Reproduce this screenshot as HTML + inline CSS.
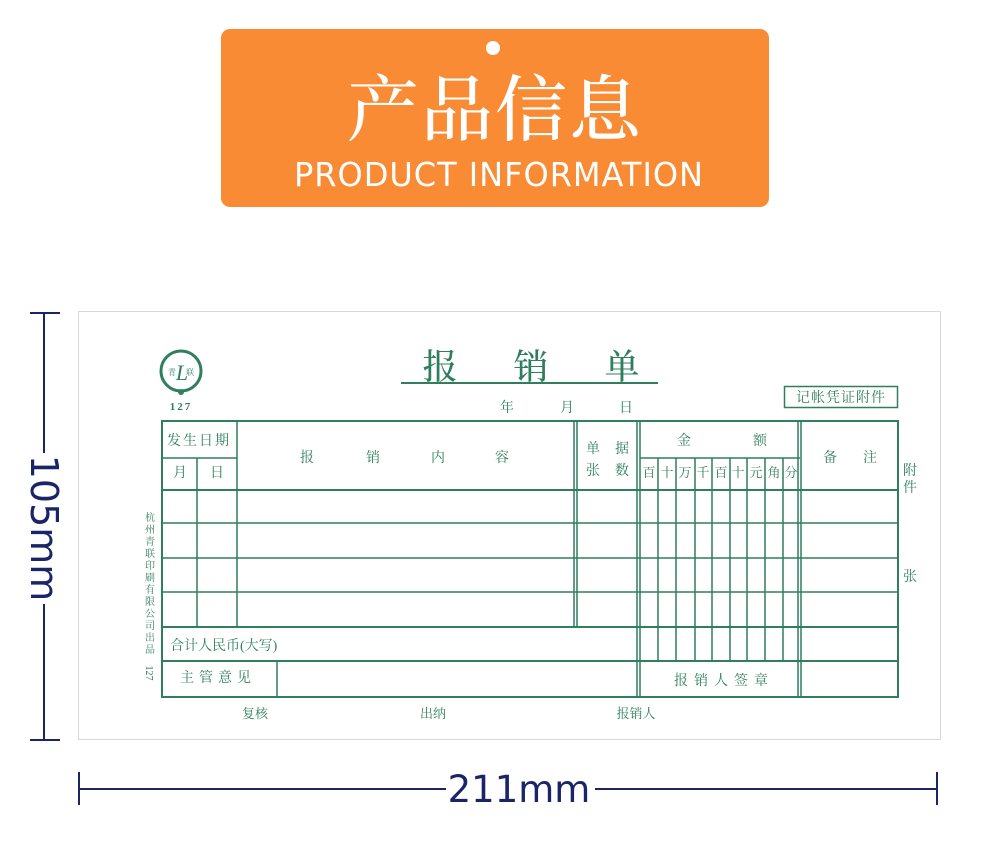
<!DOCTYPE html>
<html><head><meta charset="utf-8"><style>
html,body{margin:0;padding:0;background:#fff;width:990px;height:858px;overflow:hidden}
svg{display:block}
.g{fill:#2f7f5f;font-family:"Liberation Serif","Noto Serif CJK SC",serif}
</style></head><body>
<svg width="990" height="858" viewBox="0 0 990 858" xmlns="http://www.w3.org/2000/svg">
<!-- header -->
<rect x="221" y="29" width="548" height="178" rx="9" fill="#f98b34"/>
<circle cx="493" cy="48" r="7" fill="#fff"/>
<text x="495" y="135" text-anchor="middle" font-size="72" fill="#fff" font-family="'Noto Serif CJK SC',serif" font-weight="500" letter-spacing="2">产品信息</text>
<text x="499" y="186" text-anchor="middle" font-size="33" fill="#fff" font-family="'DejaVu Sans','Liberation Sans',sans-serif" letter-spacing="1" textLength="410" lengthAdjust="spacingAndGlyphs">PRODUCT  INFORMATION</text>

<!-- paper -->
<rect x="78.5" y="311.5" width="862" height="428" fill="#fff" stroke="#d8d8d8"/>

<!-- dimensions -->
<g stroke="#1b2466" stroke-width="2" fill="none">
<line x1="44" y1="313" x2="44" y2="453"/><line x1="44" y1="604" x2="44" y2="740"/>
<line x1="30" y1="313" x2="60" y2="313"/><line x1="30" y1="740" x2="60" y2="740"/>
<line x1="79" y1="789" x2="446" y2="789"/><line x1="595" y1="789" x2="937" y2="789"/>
<line x1="79" y1="772" x2="79" y2="805"/><line x1="937" y1="772" x2="937" y2="805"/>
</g>
<text transform="translate(31,528) rotate(90)" text-anchor="middle" font-size="38" fill="#1b2466" font-family="'DejaVu Sans','Liberation Sans',sans-serif">105mm</text>
<text x="519" y="802" text-anchor="middle" font-size="37" fill="#1b2466" font-family="'DejaVu Sans','Liberation Sans',sans-serif">211mm</text>

<!-- logo -->
<circle cx="181" cy="371" r="20" fill="none" stroke="#2f7f5f" stroke-width="3"/>
<circle cx="181" cy="392" r="3" fill="#2f7f5f"/>
<text x="172" y="375" class="g" font-size="8" text-anchor="middle">青</text>
<text x="190" y="375" class="g" font-size="8" text-anchor="middle">联</text>
<text x="182" y="380" class="g" font-size="22" font-style="italic" text-anchor="middle">L</text>
<text x="181" y="410" class="g" font-size="11" text-anchor="middle" letter-spacing="2" font-weight="bold">127</text>

<!-- title -->
<g class="g" font-size="35" text-anchor="middle" font-family="'Noto Sans CJK SC',sans-serif" font-weight="500">
<text x="440" y="379">报</text><text x="531" y="379">销</text><text x="622" y="379">单</text>
</g>
<line x1="401" y1="383" x2="658" y2="383" stroke="#2f7f5f" stroke-width="2"/>
<g class="g" font-size="14" text-anchor="middle">
<text x="507" y="412">年</text><text x="567" y="412">月</text><text x="626" y="412">日</text>
</g>
<rect x="784.5" y="386.5" width="113" height="21" fill="none" stroke="#2f7f5f" stroke-width="1.5"/>
<text x="841" y="402" class="g" font-size="14" text-anchor="middle" letter-spacing="1">记帐凭证附件</text>

<!-- table -->
<g stroke="#2f7f5f" stroke-width="1.5" fill="none">
<rect x="162" y="421" width="736" height="276" stroke-width="2"/>
<line x1="162" y1="458" x2="237" y2="458"/>
<line x1="640" y1="458" x2="800" y2="458"/>
<line x1="162" y1="490" x2="898" y2="490" stroke-width="2"/>
<line x1="162" y1="523" x2="898" y2="523"/>
<line x1="162" y1="558" x2="898" y2="558"/>
<line x1="162" y1="592" x2="898" y2="592"/>
<line x1="162" y1="627" x2="898" y2="627" stroke-width="2"/>
<line x1="162" y1="661" x2="898" y2="661" stroke-width="2"/>
<line x1="197" y1="458" x2="197" y2="627"/>
<line x1="237" y1="421" x2="237" y2="627"/>
<line x1="574" y1="421" x2="574" y2="627"/><line x1="577" y1="421" x2="577" y2="627"/>
<line x1="637" y1="421" x2="637" y2="697"/><line x1="640" y1="421" x2="640" y2="697"/>
<line x1="798" y1="421" x2="798" y2="697"/><line x1="801" y1="421" x2="801" y2="697"/>
<line x1="658" y1="458" x2="658" y2="661"/><line x1="676" y1="458" x2="676" y2="661"/>
<line x1="695" y1="458" x2="695" y2="661"/><line x1="712" y1="458" x2="712" y2="661"/>
<line x1="730" y1="458" x2="730" y2="661"/><line x1="747" y1="458" x2="747" y2="661"/>
<line x1="765" y1="458" x2="765" y2="661"/><line x1="783" y1="458" x2="783" y2="661"/>
<line x1="277" y1="661" x2="277" y2="697"/>
</g>
<g class="g" font-size="14" text-anchor="middle">
<text x="199" y="445" letter-spacing="2">发生日期</text>
<text x="180" y="477">月</text><text x="217" y="477">日</text>
<text x="307" y="462">报</text><text x="373" y="462">销</text><text x="438" y="462">内</text><text x="502" y="462">容</text>
<text x="593" y="453">单</text><text x="622" y="453">据</text>
<text x="593" y="475">张</text><text x="622" y="475">数</text>
<text x="684" y="445">金</text><text x="760" y="445">额</text>
<text x="649" y="477" font-size="13">百</text><text x="667" y="477" font-size="13">十</text><text x="685" y="477" font-size="13">万</text><text x="703" y="477" font-size="13">千</text><text x="721" y="477" font-size="13">百</text><text x="738" y="477" font-size="13">十</text><text x="756" y="477" font-size="13">元</text><text x="774" y="477" font-size="13">角</text><text x="791" y="477" font-size="13">分</text>
<text x="830" y="462">备</text><text x="870" y="462">注</text>
<text x="910" y="475">附</text><text x="910" y="492">件</text>
<text x="910" y="581">张</text>
<text x="218" y="682" letter-spacing="5">主管意见</text>
<text x="724" y="685" letter-spacing="6">报销人签章</text>
<text x="255" y="718" font-size="13">复核</text>
<text x="433" y="718" font-size="13">出纳</text>
<text x="636" y="718" font-size="13">报销人</text>
</g>
<text x="170" y="650" class="g" font-size="14">合计人民币(大写)</text>
<g class="g" font-size="10" text-anchor="middle">
<text x="150" y="521">杭</text><text x="150" y="533">州</text><text x="150" y="545">青</text><text x="150" y="557">联</text><text x="150" y="569">印</text><text x="150" y="581">刷</text><text x="150" y="593">有</text><text x="150" y="605">限</text><text x="150" y="617">公</text><text x="150" y="629">司</text><text x="150" y="641">出</text><text x="150" y="653">品</text>
</g>
<text transform="translate(146,673) rotate(90)" class="g" font-size="10" text-anchor="middle">127</text>
</svg>
</body></html>
